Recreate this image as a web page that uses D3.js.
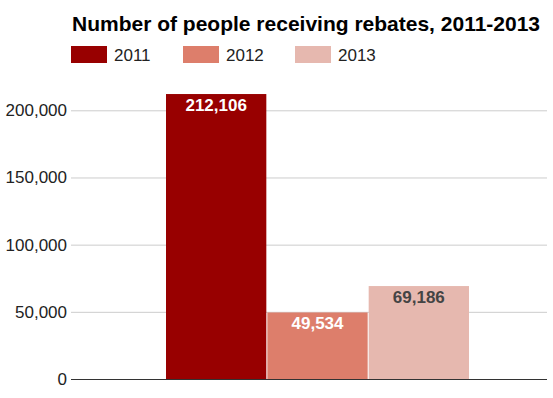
<!DOCTYPE html>
<html>
<head>
<meta charset="utf-8">
<script src="https://cdn.jsdelivr.net/npm/d3@7"></script>
<style>
  body { margin: 0; background: #fff; }
  text { font-family: "Liberation Sans", Arial, sans-serif; }
</style>
</head>
<body>
<svg id="chart"></svg>
<script>
const SERIES = ['2011', '2012', '2013'];
const VALUES = [212106, 49534, 69186];
const Y_TICKS = [0, 50000, 100000, 150000, 200000];
const COLORS = ['#980000', '#dd7e6b', '#e6b8af'];
const LABEL_COLORS = ['#ffffff', '#ffffff', '#444444'];

const WIDTH = 553;
const HEIGHT = 398;
const PLOT = {left: 71, right: 547, top: 110.3, bottom: 379};

const svg = d3.select('#chart')
    .attr('width', WIDTH)
    .attr('height', HEIGHT);

const y = d3.scaleLinear().domain([0, 200000]).range([PLOT.bottom, PLOT.top]);
// the three bars sit together in the middle of the plot
const x = d3.scaleBand().domain(SERIES).range([166, 469]).paddingInner(0.01);
const color = d3.scaleOrdinal().domain(SERIES).range(COLORS);
const fmt = d3.format(',');

// title
svg.append('text')
    .attr('x', 72)
    .attr('y', 31)
    .attr('font-size', 21)
    .attr('font-weight', 'bold')
    .attr('fill', '#000')
    .text('Number of people receiving rebates, 2011-2013');

// legend
const legend = svg.append('g').attr('transform', 'translate(71,46)')
    .selectAll('g')
    .data(SERIES)
    .enter()
    .append('g')
    .attr('transform', (d, i) => `translate(${i * 112},0)`);
legend.append('rect')
    .attr('width', 36)
    .attr('height', 17)
    .attr('fill', d => color(d));
legend.append('text')
    .attr('x', 43)
    .attr('y', 15)
    .attr('font-size', 17)
    .attr('fill', '#222')
    .text(d => d);

// grid + y axis
const yAxis = svg.append('g')
    .attr('transform', `translate(${PLOT.left},0)`)
    .call(d3.axisLeft(y).tickValues(Y_TICKS).tickFormat(fmt)
        .tickSize(-(PLOT.right - PLOT.left)).tickPadding(4));
yAxis.select('.domain').remove();
yAxis.selectAll('.tick line').attr('stroke', '#cccccc');
yAxis.selectAll('.tick text')
    .attr('font-size', 17)
    .attr('fill', '#222')
    .attr('font-family', '"Liberation Sans", Arial, sans-serif');

// bars
svg.selectAll('.bar')
    .data(SERIES)
    .enter()
    .append('rect')
    .classed('bar', true)
    .attr('x', d => x(d))
    .attr('width', x.bandwidth())
    .attr('y', (d, i) => y(VALUES[i]))
    .attr('height', (d, i) => y(0) - y(VALUES[i]))
    .attr('fill', d => color(d));

// bar labels
svg.selectAll('.label')
    .data(SERIES)
    .enter()
    .append('text')
    .classed('label', true)
    .attr('x', d => x(d) + x.bandwidth() / 2)
    .attr('y', (d, i) => y(VALUES[i]) + 17)
    .attr('text-anchor', 'middle')
    .attr('font-size', 17)
    .attr('font-weight', 'bold')
    .attr('fill', (d, i) => LABEL_COLORS[i])
    .text((d, i) => fmt(VALUES[i]));

// baseline
svg.append('line')
    .attr('x1', PLOT.left)
    .attr('x2', PLOT.right)
    .attr('y1', y(0) + 0.5)
    .attr('y2', y(0) + 0.5)
    .attr('stroke', '#333');
</script>
</body>
</html>
